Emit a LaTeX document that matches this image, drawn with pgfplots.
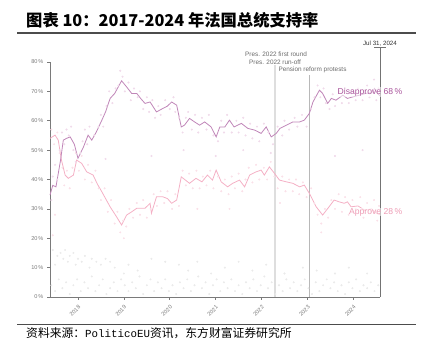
\documentclass[border=0pt]{standalone}
\usepackage{pgfplots}
\pgfplotsset{compat=1.18}
\usepackage{fontspec}
\setmainfont{Liberation Sans}
\setmonofont{Liberation Mono}
\newfontfamily\cjk{Noto Sans CJK SC}
\definecolor{dis}{HTML}{C086B8}
\definecolor{distext}{HTML}{A9549C}
\definecolor{app}{HTML}{F4B0C5}
\definecolor{apptext}{HTML}{EE9CB5}
\definecolor{disdot}{HTML}{F0DAEA}
\definecolor{appdot}{HTML}{FAE0E8}
\definecolor{grdot}{HTML}{EAEAEA}
\definecolor{axgray}{HTML}{7A7A7A}
\begin{document}
\begin{tikzpicture}[x=1pt,y=1pt]
\useasboundingbox (0,0) rectangle (422,352);
\begin{axis}[at={(50pt,55pt)}, anchor=south west, scale only axis,
  width=330pt, height=235pt,
  xmin=2017.39, xmax=2024.58, ymin=0, ymax=80,
  axis x line*=bottom, axis y line*=left,
  axis line style={-, axgray, line width=0.8pt},
  ytick={0,10,...,80}, yticklabel={\pgfmathprintnumber{\tick}\,\%},
  xtick={2018,...,2024},
  /pgf/number format/1000 sep={},
  /pgf/number format/assume math mode=true,
  x tick label style={rotate=45, anchor=north east},
  tick label style={font=\fontsize{5.6}{6.5}\selectfont, text=axgray},
  tick align=outside, major tick length=3pt,
  tick style={axgray, line width=0.6pt},
  clip=false]
% scatter
\addplot[only marks, mark=*, mark size=0.8pt, grdot, mark options={draw=none, fill=grdot}] coordinates {
(2017.45,16)(2017.5,11)(2017.55,14)(2017.62,15)(2017.68,13)(2017.72,16)(2017.78,12)(2017.82,14)(2017.9,15)(2017.95,11)(2018.0,13)(2018.08,12)(2018.15,14)(2018.25,10)(2018.3,13)(2018.4,12)(2018.5,11)(2018.6,13)(2018.7,12)(2018.8,10)(2019.0,8)(2019.1,11)(2019.3,9)(2019.6,13)(2019.9,12)(2020.2,11)(2020.4,9)(2020.6,12)(2020.9,8)(2021.2,10)(2021.5,12)(2021.8,9)(2022.1,11)(2022.5,8)(2022.9,10)(2023.2,9)(2023.6,8)(2023.9,10)(2024.3,8)
(2017.42,4)(2017.5,2)(2017.58,6)(2017.66,3)(2017.74,5)(2017.82,1)(2017.9,4)(2017.98,6)(2018.06,2)(2018.14,5)(2018.22,3)(2018.3,7)(2018.38,2)(2018.46,4)(2018.54,6)(2018.62,1)(2018.7,3)(2018.78,5)(2018.86,2)(2018.94,6)(2019.02,4)(2019.1,2)(2019.18,5)(2019.26,3)(2019.34,7)(2019.42,1)(2019.5,4)(2019.58,6)(2019.66,2)(2019.74,5)(2019.82,3)(2019.9,6)(2019.98,2)(2020.06,4)(2020.14,1)(2020.22,5)(2020.3,3)(2020.38,6)(2020.46,2)(2020.54,4)(2020.62,7)(2020.7,3)(2020.78,5)(2020.86,1)(2020.94,4)(2021.02,6)(2021.1,2)(2021.18,5)(2021.26,3)(2021.34,6)(2021.42,2)(2021.5,4)(2021.58,1)(2021.66,5)(2021.74,3)(2021.82,6)(2021.9,2)(2021.98,4)(2022.06,7)(2022.14,3)(2022.22,5)(2022.3,1)(2022.38,4)(2022.46,2)(2022.54,6)(2022.62,3)(2022.7,5)(2022.78,2)(2022.86,4)(2022.94,6)(2023.02,3)(2023.1,1)(2023.18,5)(2023.26,2)(2023.34,4)(2023.42,6)(2023.5,3)(2023.58,5)(2023.66,2)(2023.74,4)(2023.82,1)(2023.9,5)(2023.98,3)(2024.06,6)(2024.14,2)(2024.22,4)(2024.3,3)(2024.38,5)(2024.46,2)(2024.54,4)
};
\addplot[only marks, mark=*, mark size=0.8pt, disdot, mark options={draw=none, fill=disdot}] coordinates {
(2017.42,33)(2017.45,41)(2017.5,45)(2017.55,40)(2017.6,50)(2017.65,56)(2017.7,52)(2017.75,57)(2017.8,55)(2017.85,58)(2017.9,50)(2017.95,46)(2018.05,49)(2018.1,53)(2018.15,57)(2018.2,52)(2018.25,58)(2018.35,55)(2018.45,58)(2018.5,62)(2018.55,58)(2018.62,65)(2018.68,70)(2018.75,66)(2018.82,71)(2018.88,72)(2018.92,77)(2018.97,75)(2019.02,70)(2019.1,73)(2019.15,67)(2019.22,71)(2019.3,68)(2019.35,70)(2019.42,64)(2019.5,68)(2019.55,63)(2019.62,67)(2019.68,61)(2019.75,65)(2019.8,62)(2019.9,67)(2020.0,64)(2020.08,68)(2020.12,63)(2020.2,61)(2020.28,56)(2020.35,61)(2020.4,63)(2020.48,57)(2020.55,62)(2020.62,56)(2020.7,61)(2020.8,57)(2020.85,62)(2020.95,55)(2021.05,53)(2021.12,60)(2021.18,56)(2021.25,62)(2021.35,56)(2021.45,60)(2021.5,56)(2021.6,61)(2021.65,55)(2021.75,59)(2021.8,54)(2021.9,58)(2021.95,53)(2022.05,59)(2022.15,56)(2022.25,52)(2022.35,58)(2022.45,55)(2022.5,60)(2022.6,57)(2022.72,61)(2022.78,58)(2022.88,62)(2022.98,58)(2023.08,64)(2023.15,68)(2023.22,72)(2023.28,68)(2023.35,71)(2023.4,66)(2023.48,64)(2023.55,69)(2023.6,65)(2023.7,70)(2023.75,66)(2023.82,71)(2023.9,66)(2023.95,70)(2024.05,67)(2024.1,71)(2024.2,67)(2024.3,72)(2024.35,68)(2024.45,74)(2024.5,67)(2024.55,71)
(2020.3,50)(2021.0,48)(2021.6,50)(2022.2,49)(2019.6,48)(2018.6,47)(2023.6,48)(2024.2,50)
};
\addplot[only marks, mark=*, mark size=0.8pt, appdot, mark options={draw=none, fill=appdot}] coordinates {
(2017.42,57)(2017.48,52)(2017.55,56)(2017.6,49)(2017.66,44)(2017.7,38)(2017.76,43)(2017.82,37)(2017.88,44)(2017.95,49)(2018.02,43)(2018.08,48)(2018.15,40)(2018.22,45)(2018.3,39)(2018.38,43)(2018.45,37)(2018.5,33)(2018.58,37)(2018.65,29)(2018.72,33)(2018.8,25)(2018.86,29)(2018.92,22)(2018.98,26)(2019.05,24)(2019.12,30)(2019.2,27)(2019.28,32)(2019.35,28)(2019.42,33)(2019.5,27)(2019.58,30)(2019.65,35)(2019.72,31)(2019.8,36)(2019.88,32)(2019.95,36)(2020.05,30)(2020.12,35)(2020.2,31)(2020.28,43)(2020.35,38)(2020.42,42)(2020.5,37)(2020.58,43)(2020.65,37)(2020.72,41)(2020.8,38)(2020.88,43)(2020.95,37)(2021.05,41)(2021.12,36)(2021.2,40)(2021.28,35)(2021.35,41)(2021.42,37)(2021.5,42)(2021.58,36)(2021.65,40)(2021.72,44)(2021.8,39)(2021.88,45)(2021.95,40)(2022.05,44)(2022.12,40)(2022.2,46)(2022.28,41)(2022.35,37)(2022.45,41)(2022.52,36)(2022.6,40)(2022.68,36)(2022.75,40)(2022.82,35)(2022.9,39)(2022.98,34)(2023.08,37)(2023.15,32)(2023.22,28)(2023.3,25)(2023.38,30)(2023.45,27)(2023.52,33)(2023.6,30)(2023.68,35)(2023.75,29)(2023.82,34)(2023.9,28)(2023.98,33)(2024.05,30)(2024.15,34)(2024.22,27)(2024.3,32)(2024.38,29)(2024.45,33)(2024.52,26)(2024.56,31)
(2017.5,28)(2017.45,21)(2019.0,20)(2023.3,22)(2022.4,32)(2020.6,30)(2021.3,30)
};
% event lines
\draw[line width=2.5pt, black!13] (axis cs:2022.29,0) -- (axis cs:2022.29,79);
\draw[line width=0.7pt, black!28] (axis cs:2023.04,0) -- (axis cs:2023.04,75.5);
\draw[line width=0.8pt, black!55] (axis cs:2024.58,0) -- (axis cs:2024.58,85);
\draw[line width=0.8pt, black!55] (axis cs:2024.45,85) -- (axis cs:2024.71,85);
% lines
\addplot[app, line width=0.8pt] coordinates {
(2017.39,54.0)(2017.5,55.1)(2017.57,53.4)(2017.64,46.6)(2017.72,41.5)(2017.79,40.4)(2017.9,41.5)(2017.97,46.6)(2018.08,45.5)(2018.19,42.6)(2018.33,41.5)(2018.42,38.5)(2018.52,35.8)(2018.7,30.7)(2018.84,27.3)(2018.95,24.5)(2019.06,27.9)(2019.17,29)(2019.28,30.2)(2019.46,30.2)(2019.57,31.9)(2019.6,28.5)(2019.71,34.1)(2019.85,34.1)(2019.95,33.5)(2020.04,31.9)(2020.15,33.0)(2020.25,40.9)(2020.43,38.7)(2020.57,40.4)(2020.7,39.2)(2020.82,41.5)(2020.93,39.8)(2021.01,43.2)(2021.12,39.2)(2021.26,37.5)(2021.37,38.7)(2021.52,39.8)(2021.63,37.5)(2021.74,41.5)(2021.88,42.6)(2021.99,43.2)(2022.06,41.5)(2022.17,44.3)(2022.28,42.1)(2022.39,39.8)(2022.54,39.2)(2022.68,38.7)(2022.83,37.5)(2022.93,38.1)(2023.04,35.3)(2023.19,30.7)(2023.33,27.9)(2023.47,30.7)(2023.58,33.0)(2023.69,32.4)(2023.8,31.9)(2023.87,32.4)(2023.95,30.7)(2024.1,31)(2024.25,29.5)(2024.4,30)(2024.5,28.5)(2024.58,28)
};
\addplot[dis, line width=0.8pt] coordinates {
(2017.39,34.7)(2017.45,38)(2017.52,37.5)(2017.62,46.6)(2017.68,53.4)(2017.75,54)(2017.83,54.5)(2017.92,52)(2018.0,47.2)(2018.12,51.1)(2018.22,55.1)(2018.3,53.4)(2018.4,56.2)(2018.52,60.2)(2018.6,63)(2018.7,67.6)(2018.8,69.3)(2018.95,73.6)(2019.06,71.5)(2019.17,69.3)(2019.28,69.3)(2019.37,67.5)(2019.46,65.9)(2019.57,66.4)(2019.71,63.0)(2019.85,64.2)(2019.95,65)(2020.04,66.4)(2020.15,65.3)(2020.25,57.9)(2020.32,58.5)(2020.43,60.8)(2020.54,59.6)(2020.65,58.5)(2020.76,59.6)(2020.9,57.9)(2021.01,54.5)(2021.09,57.9)(2021.2,57.9)(2021.3,60.2)(2021.4,57.9)(2021.56,59.1)(2021.7,57.4)(2021.85,56.8)(2021.99,55.7)(2022.1,57.9)(2022.21,54.5)(2022.32,55.7)(2022.4,57.4)(2022.54,58.5)(2022.68,59.6)(2022.83,59.6)(2022.93,60.2)(2023.04,62.5)(2023.12,66.4)(2023.26,70.4)(2023.33,69.3)(2023.44,65.9)(2023.52,67.6)(2023.62,67.0)(2023.77,68.7)(2023.87,67.6)(2023.98,68.1)(2024.13,68.7)(2024.27,69.3)(2024.4,69.5)(2024.46,71)(2024.52,69.3)(2024.58,68.5)
};
\end{axis}
% annotations
\begin{scope}[font=\fontsize{6.4}{7.5}\selectfont, text=black!58]
\node at (276,298) {Pres. 2022 first round};
\node at (275,290) {Pres. 2022 run-off};
\node[anchor=west] at (275,282) {Pension reform protests};
\node[text=black!80, font=\fontsize{6.2}{7}\selectfont] at (380,308) {Jul 31, 2024};
\end{scope}
\node[anchor=east, text=distext, font=\fontsize{8.6}{10}\selectfont, inner sep=0.6pt, fill=white, fill opacity=0.55, text opacity=1] at (403,260) {Disapprove 68\,\%};
\node[anchor=east, text=apptext, font=\fontsize{8.6}{10}\selectfont, inner sep=0.6pt, fill=white, fill opacity=0.55, text opacity=1] at (403,140) {Approve 28\,\%};
% title and frame lines
\node[anchor=west, inner sep=0pt, font=\fontsize{16.3}{18}\selectfont] at (26,332) {\cjk\bfseries 图表 10：2017-2024 年法国总统支持率};
\draw[line width=1.3pt, black!70] (17,319) -- (416,319);
\draw[line width=1pt, black!70] (17,27) -- (416,27);
\node[anchor=west, inner sep=0pt, font=\fontsize{11.8}{13}\selectfont] at (26,19) {\cjk 资料来源：{\fontsize{10.8}{13}\selectfont\ttfamily PoliticoEU}资讯，东方财富证券研究所};
\end{tikzpicture}
\end{document}
